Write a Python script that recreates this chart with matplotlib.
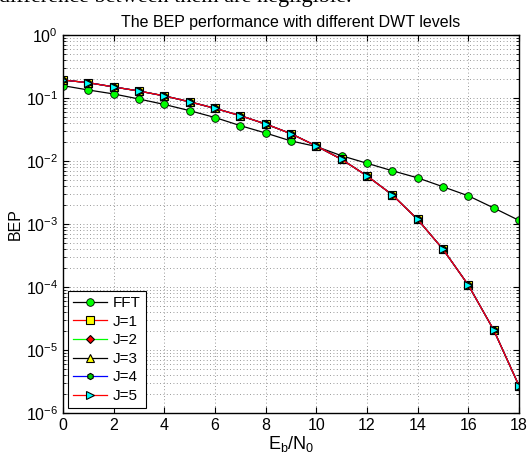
import numpy as np
import matplotlib
matplotlib.use('Agg')
import matplotlib.pyplot as plt
from matplotlib.ticker import LogLocator, MultipleLocator, NullFormatter

plt.rcParams['font.family'] = ['Liberation Sans', 'DejaVu Sans']
plt.rcParams['mathtext.fontset'] = 'custom'
plt.rcParams['mathtext.rm'] = 'Liberation Sans'
plt.rcParams['mathtext.it'] = 'Liberation Sans'

# Eb/N0 in dB
snr = list(range(0, 19))

# BEP
bep_fft = [0.157, 0.134, 0.116, 0.0964, 0.079, 0.063, 0.049, 0.0364, 0.0278, 0.0208,
           0.0170, 0.0121, 0.0092, 0.0070, 0.0054, 0.0039, 0.0028, 0.0018, 0.00114]
bep_dwt = [0.193, 0.175, 0.150, 0.129, 0.108, 0.087, 0.0685, 0.0524, 0.0387, 0.0271,
           0.0173, 0.0106, 0.0058, 0.0029, 0.00118, 3.97e-4, 1.07e-4, 2.08e-5, 2.7e-6]
# all DWT levels give (practically) the same curve
bep_j = {'J=1': bep_dwt, 'J=2': bep_dwt, 'J=3': bep_dwt, 'J=4': bep_dwt, 'J=5': bep_dwt}

styles = {
    'J=1': dict(color='#ff0000', marker='s', mfc='#ffff00'),
    'J=2': dict(color='#00ff00', marker='D', mfc='#ff0000', ms=4.5),
    'J=3': dict(color='#000000', marker='^', mfc='#ffff00'),
    'J=4': dict(color='#0000ff', marker='h', mfc='#00cc00', ms=4.5),
    'J=5': dict(color='#ff0000', marker='>', mfc='#00ffff'),
}

fig = plt.figure(figsize=(5.28, 4.57), dpi=100)
ax = fig.add_axes([0.1193, 0.0963, 0.8637, 0.8271])

# leftover line of the surrounding page text, cut by the top edge
fig.text(352 / 528, 1 - 2 / 457, 'difference between them are negligible.',
         ha='right', va='baseline', fontsize=16, family='Liberation Serif')

ax.plot(snr, bep_fft, color='black', lw=0.9, marker='o', ms=5.5,
        mfc='#00ff00', mec='black', mew=0.6, label='FFT')
for name, vals in bep_j.items():
    st = dict(styles[name])
    ms = st.pop('ms', 5.5)
    ax.plot(snr, vals, lw=0.9, ms=ms, mec='black', mew=0.8, label=name, **st)

ax.set_yscale('log')
ax.set_xlim(0, 18)
ax.set_ylim(1e-6, 1)
ax.xaxis.set_major_locator(MultipleLocator(2))
ax.yaxis.set_major_locator(LogLocator(base=10, numticks=10))
ax.yaxis.set_minor_locator(LogLocator(base=10, subs=np.arange(2, 10), numticks=10))
ax.yaxis.set_minor_formatter(NullFormatter())

ax.grid(True, which='major', ls=(0, (1, 3)), color='#777777', lw=0.6)
ax.grid(True, which='minor', axis='y', ls=(0, (1, 3)), color='#777777', lw=0.6)
ax.tick_params(which='both', direction='in', top=True, right=True, labelsize=11.5)
ax.tick_params(which='major', length=4)
ax.tick_params(which='minor', length=2)
for sp in ax.spines.values():
    sp.set_linewidth(1.0)

ax.set_title('The BEP performance with different DWT levels', fontsize=11.5, pad=6)
ax.set_xlabel(r'$\mathregular{E_b/N_0}$', fontsize=13, labelpad=1)
ax.set_ylabel('BEP', fontsize=11.5, labelpad=2)

leg = ax.legend(loc='lower left', fontsize=11, handlelength=2.2, handletextpad=0.4,
                labelspacing=0.3, borderpad=0.35, fancybox=False, framealpha=1,
                edgecolor='black', borderaxespad=0.3)
leg.get_frame().set_linewidth(0.8)

fig.savefig('out.png', dpi=100)
